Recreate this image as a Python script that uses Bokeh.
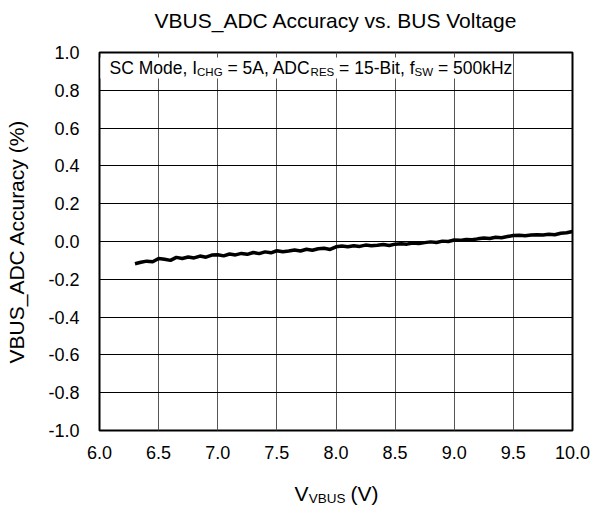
import math
from bokeh.plotting import figure
from bokeh.layouts import column
from bokeh.models import Label, BoxAnnotation, FixedTicker, Range1d, CustomJSTickFormatter
from bokeh.embed import file_html
from bokeh.resources import INLINE

# ---- data ----
voltage = [6.30, 6.35, 6.40, 6.45, 6.50, 6.55, 6.60, 6.65, 6.70, 6.75,
           6.80, 6.85, 6.90, 6.95, 7.00, 7.05, 7.10, 7.15, 7.20, 7.25,
           7.30, 7.35, 7.40, 7.45, 7.50, 7.55, 7.60, 7.65, 7.70, 7.75,
           7.80, 7.85, 7.90, 7.95, 8.00, 8.05, 8.10, 8.15, 8.20, 8.25,
           8.30, 8.35, 8.40, 8.45, 8.50, 8.55, 8.60, 8.65, 8.70, 8.75,
           8.80, 8.85, 8.90, 8.95, 9.00, 9.05, 9.10, 9.15, 9.20, 9.25,
           9.30, 9.35, 9.40, 9.45, 9.50, 9.55, 9.60, 9.65, 9.70, 9.75,
           9.80, 9.85, 9.90, 9.95, 10.00]
accuracy = [-0.118, -0.110, -0.104, -0.107, -0.090, -0.094, -0.100, -0.084, -0.090, -0.082,
            -0.087, -0.077, -0.083, -0.072, -0.070, -0.076, -0.066, -0.071, -0.063, -0.068,
            -0.058, -0.064, -0.055, -0.060, -0.049, -0.054, -0.050, -0.045, -0.050, -0.041,
            -0.046, -0.038, -0.036, -0.042, -0.028, -0.024, -0.028, -0.022, -0.026, -0.019,
            -0.023, -0.020, -0.016, -0.021, -0.014, -0.012, -0.014, -0.008, -0.011, -0.006,
            -0.002, -0.005, 0.002, 0.000, 0.008, 0.006, 0.011, 0.009, 0.014, 0.018,
            0.016, 0.022, 0.020, 0.026, 0.032, 0.033, 0.031, 0.034, 0.036, 0.034,
            0.038, 0.036, 0.044, 0.046, 0.053]
x_ticks = [6.0, 6.5, 7.0, 7.5, 8.0, 8.5, 9.0, 9.5, 10.0]
y_ticks = [-1.0, -0.8, -0.6, -0.4, -0.2, 0.0, 0.2, 0.4, 0.6, 0.8, 1.0]

FONT = "Liberation Sans"
NB = "\u00a0"
W = 590
FRAME_L, FRAME_R = 99, 572
X_MID = 8.0


def text_strip(height):
    f = figure(width=W, height=height, output_backend="svg", toolbar_location=None,
               x_range=Range1d(6.0, 10.0), y_range=Range1d(0, height),
               x_axis_location=None, y_axis_location=None,
               min_border_left=FRAME_L, min_border_right=W - FRAME_R,
               min_border_top=0, min_border_bottom=0)
    f.outline_line_color = None
    f.grid.visible = False
    f.background_fill_color = "white"
    f.border_fill_color = "white"
    return f


# ---- title strip ----
top = text_strip(40)
top.add_layout(Label(x=X_MID, y=20, text="VBUS_ADC Accuracy vs. BUS Voltage",
                     text_font=FONT, text_font_size="21px", text_color="black",
                     text_align="center", text_baseline="middle"))

# ---- main plot ----
p = figure(width=W, height=426, output_backend="svg", toolbar_location=None,
           x_range=Range1d(6.0, 10.0), y_range=Range1d(-1.0, 1.0),
           min_border_left=FRAME_L, min_border_right=W - FRAME_R, min_border_top=12,
           min_border_bottom=36)
p.background_fill_color = "white"
p.border_fill_color = "white"
p.outline_line_color = "black"
p.outline_line_width = 2

for ax, ticks in ((p.xaxis, x_ticks), (p.yaxis, y_ticks)):
    ax.ticker = FixedTicker(ticks=ticks)
    ax.major_tick_line_color = None
    ax.minor_tick_line_color = None
    ax.axis_line_color = None
    ax.major_label_text_font = FONT
    ax.major_label_text_font_size = "18px"
    ax.major_label_text_color = "black"
    ax.formatter = CustomJSTickFormatter(code="return tick.toFixed(1);")
p.xaxis.major_label_standoff = 9
p.yaxis.major_label_standoff = 14

p.yaxis.axis_label = "VBUS_ADC Accuracy (%)"
p.yaxis.axis_label_text_font = FONT
p.yaxis.axis_label_text_font_size = "21px"
p.yaxis.axis_label_text_font_style = "normal"
p.yaxis.axis_label_text_color = "black"
p.yaxis.axis_label_standoff = 17

p.xgrid.ticker = FixedTicker(ticks=x_ticks)
p.ygrid.ticker = FixedTicker(ticks=y_ticks)
p.xgrid.grid_line_color = "#555555"
p.ygrid.grid_line_color = "black"
p.xgrid.grid_line_width = 1
p.ygrid.grid_line_width = 1

p.line(voltage, accuracy, line_color="black", line_width=3.5)

# condition box
p.add_layout(BoxAnnotation(left=6.008, right=9.42, top=0.974, bottom=0.862,
                           fill_color="white", fill_alpha=1.0, line_color=None))

main_sz, sub_sz = 17.5, 11.5
pieces = [("SC Mode, I", False, 5.002), ("CHG", True, 2.222),
          (NB + "= 5A, ADC", False, 5.030), ("RES", True, 2.056),
          (NB + "= 15-Bit, f", False, 4.586), ("SW", True, 1.611),
          (NB + "= 500kHz", False, 4.530)]
off = 0.0
for txt, sub, em in pieces:
    sz = sub_sz if sub else main_sz
    p.add_layout(Label(x=6.0, y=0.918, x_offset=10 + off, y_offset=-4 if sub else 0,
                       text=txt, text_font=FONT, text_font_size=f"{sz}px",
                       text_color="black", text_baseline="middle", text_align="left"))
    off += em * sz

# ---- x axis label strip (with subscript) ----
bot = text_strip(39)
big, small = 21, 13.5
xl = [("V", False, 0.667 * big), ("VBUS", True, 2.723 * small + 4),
      ("(V)", False, 1.333 * big)]
total = sum(w for _, _, w in xl)
off = -total / 2
for txt, sub, w in xl:
    sz = small if sub else big
    bot.add_layout(Label(x=X_MID, y=12 - (5 if sub else 0), x_offset=off,
                         text=txt, text_font=FONT, text_font_size=f"{sz}px",
                         text_color="black", text_align="left", text_baseline="middle"))
    off += w + (1 if sub else 0)

layout = column(top, p, bot, spacing=0)
open("out.html", "w").write(file_html(layout, INLINE))
